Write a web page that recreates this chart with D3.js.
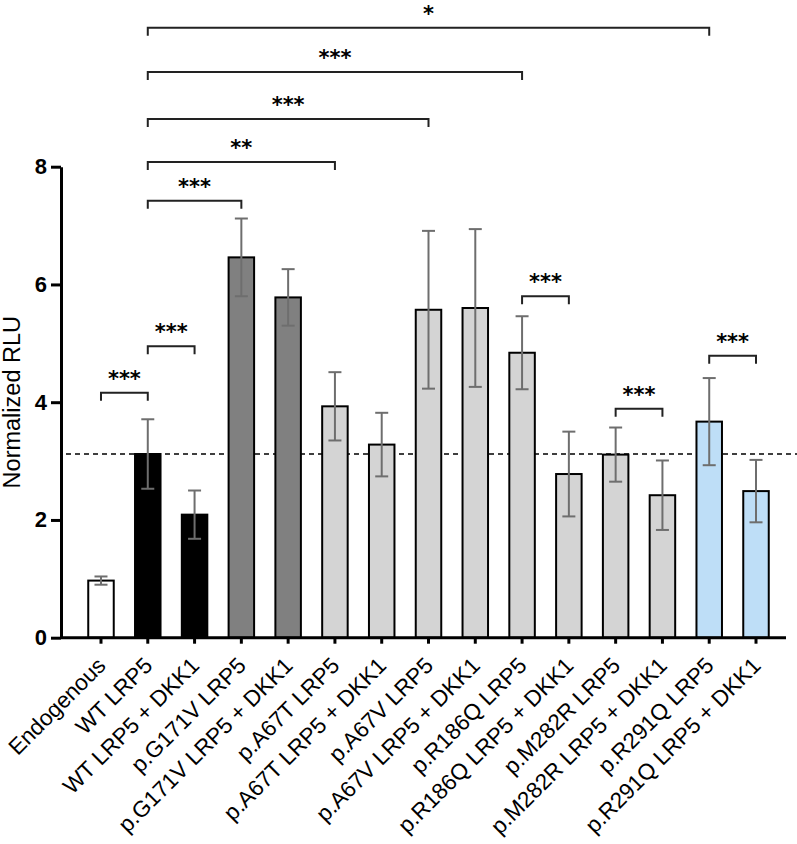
<!doctype html>
<html>
<head>
  <meta charset="utf-8" />
  <script src="https://d3js.org/d3.v7.min.js"></script>
  <style>
    body { margin: 0; background: #fff; }
    svg { display: block; }
  </style>
</head>
<body>
  <svg></svg>
  <script>
    var labels = ["Endogenous", "WT LRP5", "WT LRP5 + DKK1", "p.G171V LRP5", "p.G171V LRP5 + DKK1",
      "p.A67T LRP5", "p.A67T LRP5 + DKK1", "p.A67V LRP5", "p.A67V LRP5 + DKK1",
      "p.R186Q LRP5", "p.R186Q LRP5 + DKK1", "p.M282R LRP5", "p.M282R LRP5 + DKK1",
      "p.R291Q LRP5", "p.R291Q LRP5 + DKK1"];
    var means = [0.97, 3.12, 2.09, 6.46, 5.78, 3.93, 3.28, 5.57, 5.60, 4.84, 2.78, 3.11, 2.42, 3.67, 2.49];
    var errs = [0.07, 0.59, 0.41, 0.66, 0.48, 0.58, 0.54, 1.34, 1.34, 0.62, 0.72, 0.46, 0.59, 0.74, 0.53];
    var groups = ["endo", "wt", "wt", "g171v", "g171v", "other", "other", "other", "other",
      "other", "other", "other", "other", "r291q", "r291q"];
    var yTicks = [0, 2, 4, 6, 8];
    var refLine = 3.12;

    // significance brackets: from bar, to bar, height (in RLU), label
    var cmpFrom = [1, 1, 1, 1, 1, 1, 0, 9, 11, 13];
    var cmpTo = [13, 9, 7, 5, 3, 2, 1, 10, 12, 14];
    var cmpLevel = [10.36, 9.61, 8.81, 8.08, 7.42, 4.95, 4.16, 5.80, 3.89, 4.79];
    var cmpLabel = ["*", "***", "***", "**", "***", "***", "***", "***", "***", "***"];

    var width = 797, height = 844;
    var colors = { endo: "#ffffff", wt: "#000000", g171v: "#808080", other: "#d4d4d4", r291q: "#bedef7" };

    var svg = d3.select("svg").attr("width", width).attr("height", height);

    var x = d3.scaleBand()
      .domain(d3.range(labels.length))
      .range([77.6, 779.4])
      .paddingInner(0.455)
      .paddingOuter(0.2275);

    var y = d3.scaleLinear().domain([0, 8]).range([637.7, 166.7]);

    function cx(i) { return x(i) + x.bandwidth() / 2; }

    // dashed reference line at WT level
    svg.append("line")
      .attr("x1", 66).attr("x2", width)
      .attr("y1", y(refLine)).attr("y2", y(refLine))
      .attr("stroke", "#000").attr("stroke-width", 1.6)
      .attr("stroke-dasharray", "5,4");

    // bars
    svg.selectAll(".bar")
      .data(means)
      .enter()
      .append("rect")
      .attr("class", "bar")
      .attr("x", function(d, i) { return x(i); })
      .attr("y", function(d) { return y(d); })
      .attr("width", x.bandwidth())
      .attr("height", function(d) { return y(0) - y(d); })
      .attr("fill", function(d, i) { return colors[groups[i]]; })
      .attr("stroke", "#000")
      .attr("stroke-width", 2);

    // error bars
    var eb = svg.selectAll(".err")
      .data(means)
      .enter()
      .append("g")
      .attr("class", "err")
      .attr("stroke", "#6e6e6e")
      .attr("stroke-width", 2);
    eb.append("line")
      .attr("x1", function(d, i) { return cx(i); })
      .attr("x2", function(d, i) { return cx(i); })
      .attr("y1", function(d, i) { return y(d + errs[i]); })
      .attr("y2", function(d, i) { return y(d - errs[i]); });
    [1, -1].forEach(function(s) {
      eb.append("line")
        .attr("x1", function(d, i) { return cx(i) - 6.5; })
        .attr("x2", function(d, i) { return cx(i) + 6.5; })
        .attr("y1", function(d, i) { return y(d + s * errs[i]); })
        .attr("y2", function(d, i) { return y(d + s * errs[i]); });
    });

    // y axis
    var yAxis = svg.append("g")
      .attr("transform", "translate(61,0)")
      .call(d3.axisLeft(y).tickValues(yTicks).tickSize(10).tickSizeOuter(0).tickPadding(4));
    yAxis.select(".domain").attr("stroke-width", 3).attr("stroke", "#000");
    yAxis.selectAll(".tick line").attr("stroke-width", 3);
    yAxis.selectAll(".tick text")
      .attr("font-family", "'Liberation Sans', Arial, sans-serif")
      .attr("font-weight", "bold")
      .attr("font-size", "22px")
      .attr("fill", "#000");

    svg.append("text")
      .attr("transform", "translate(19.5," + (y(0) + y(8)) / 2 + ") rotate(-90)")
      .attr("text-anchor", "middle")
      .attr("font-family", "'Liberation Sans', Arial, sans-serif")
      .attr("font-size", "23.5px")
      .text("Normalized RLU");

    // x axis
    var xAxis = svg.append("g")
      .attr("transform", "translate(0," + y(0) + ")")
      .call(d3.axisBottom(x).tickSize(6).tickSizeOuter(0).tickFormat(""));
    xAxis.select(".domain").remove();
    xAxis.selectAll(".tick line").attr("stroke-width", 3);
    svg.append("line")
      .attr("x1", 61).attr("x2", 786)
      .attr("y1", y(0)).attr("y2", y(0))
      .attr("stroke", "#000").attr("stroke-width", 3);

    svg.selectAll(".xlab")
      .data(labels)
      .enter()
      .append("text")
      .attr("class", "xlab")
      .attr("transform", function(d, i) { return "translate(" + (cx(i) + 6) + ",667) rotate(-45)"; })
      .attr("text-anchor", "end")
      .attr("font-family", "'Liberation Sans', Arial, sans-serif")
      .attr("font-size", "22.5px")
      .text(function(d) { return d; });

    // significance brackets
    var br = svg.selectAll(".cmp")
      .data(cmpLabel)
      .enter()
      .append("g")
      .attr("class", "cmp");
    br.append("path")
      .attr("d", function(d, i) {
        var yy = y(cmpLevel[i]);
        return "M" + cx(cmpFrom[i]) + "," + (yy + 8) + "V" + yy + "H" + cx(cmpTo[i]) + "V" + (yy + 8);
      })
      .attr("fill", "none")
      .attr("stroke", "#222")
      .attr("stroke-width", 2);
    br.append("text")
      .attr("x", function(d, i) { return (cx(cmpFrom[i]) + cx(cmpTo[i])) / 2; })
      .attr("y", function(d, i) { return y(cmpLevel[i]) - 7; })
      .attr("text-anchor", "middle")
      .attr("font-family", "'DejaVu Sans', sans-serif")
      .attr("font-weight", "bold")
      .attr("font-size", "21px")
      .text(function(d) { return d; });
  </script>
</body>
</html>
